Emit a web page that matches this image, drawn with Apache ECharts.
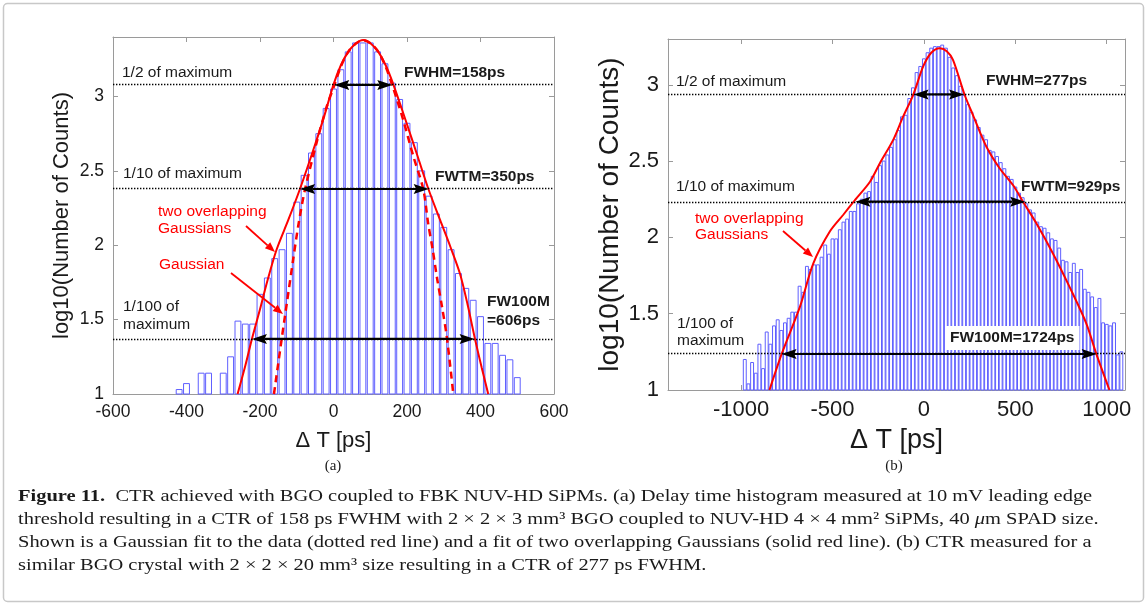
<!DOCTYPE html>
<html>
<head>
<meta charset="utf-8">
<script src="https://cdn.jsdelivr.net/npm/echarts@6/dist/echarts.min.js"></script>
<style>
  html, body { margin: 0; padding: 0; background: #ffffff; }
  #chart { width: 1148px; height: 606px; }
</style>
</head>
<body>
<div id="chart"></div>
<script>
// ---------- (a) 2x2x3 mm3 BGO : histogram of log10(counts), 20 ps bins ----------
const binsA = [-420, -400, -360, -340, -300, -280, -260, -240, -220, -200,
  -180, -160, -140, -120, -100, -80, -60, -40, -20, 0,
  20, 40, 60, 80, 100, 120, 140, 160, 180, 200,
  220, 240, 260, 280, 300, 320, 340, 360, 380, 400,
  420, 440, 460, 480, 500];
const countsA = [1.03, 1.07, 1.14, 1.14, 1.14, 1.25, 1.49, 1.47, 1.47, 1.67,
  1.78, 1.91, 1.97, 2.08, 2.29, 2.47, 2.62, 2.75, 2.92, 3.05,
  3.18, 3.30, 3.36, 3.36, 3.36, 3.30, 3.22, 3.09, 2.98, 2.82,
  2.69, 2.50, 2.33, 2.21, 2.12, 1.97, 1.81, 1.71, 1.63, 1.52,
  1.34, 1.34, 1.26, 1.23, 1.11];
// fit of two overlapping Gaussians (solid) and single Gaussian (dashed), [ps, log10]
const twoGaussA = [[-261, 1.0], [-240, 1.19], [-222, 1.37], [-200, 1.57], [-180, 1.76],
  [-155, 1.97], [-123, 2.17], [-91, 2.38], [-55, 2.64], [-25, 2.87], [0, 3.08],
  [20, 3.21], [40, 3.30], [60, 3.355], [81, 3.379], [102, 3.355], [122, 3.30],
  [142, 3.21], [163, 3.08], [199, 2.82], [230, 2.59], [258, 2.38], [290, 2.17],
  [318, 1.99], [344, 1.81], [365, 1.60], [385, 1.37], [403, 1.18], [421, 1.0]];
const gaussA = [[-162, 1.0], [-141, 1.37], [-127, 1.61], [-110, 1.90], [-96, 2.13],
  [-78, 2.37], [-46, 2.69], [-20, 2.92], [0, 3.06], [20, 3.20], [40, 3.30],
  [60, 3.355], [81, 3.379], [102, 3.355], [122, 3.30], [142, 3.20], [162, 3.06],
  [190, 2.84], [217, 2.60], [244, 2.38], [258, 2.14], [270, 1.97], [281, 1.79],
  [295, 1.59], [308, 1.39], [326, 1.0]];
const levelsA = [3.078, 2.378, 1.37];        // 1/2, 1/10, 1/100 of maximum
const fwStartA = [2, -91, -222];             // left edge of each width, ps
const fwWidthA = [158, 350, 606];            // FWHM, FWTM, FW100M, ps
const xTicksA = [-600, -400, -200, 0, 200, 400, 600];
const yTicksA = [1, 1.5, 2, 2.5, 3];

// ---------- (b) 2x2x20 mm3 BGO ----------
const binsB = [-980, -960, -940, -920, -900, -880, -860, -840, -820, -800,
  -780, -760, -740, -720, -700, -680, -660, -640, -620, -600,
  -580, -560, -540, -520, -500, -480, -460, -440, -420, -400,
  -380, -360, -340, -320, -300, -280, -260, -240, -220, -200,
  -180, -160, -140, -120, -100, -80, -60, -40, -20, 0,
  20, 40, 60, 80, 100, 120, 140, 160, 180, 200,
  220, 240, 260, 280, 300, 320, 340, 360, 380, 400,
  420, 440, 460, 480, 500, 520, 540, 560, 580, 600,
  620, 640, 660, 680, 700, 720, 740, 760, 780, 800,
  820, 840, 860, 880, 900, 920, 940, 960, 980, 1000,
  1020, 1040, 1060, 1080];
const countsB = [1.20, 1.04, 1.18, 1.11, 1.30, 1.14, 1.38, 1.30, 1.42, 1.46,
  1.39, 1.44, 1.47, 1.51, 1.51, 1.68, 1.64, 1.81, 1.79, 1.82,
  1.82, 1.87, 1.95, 1.89, 1.99, 1.99, 2.05, 2.10, 2.12, 2.17,
  2.17, 2.22, 2.25, 2.29, 2.30, 2.40, 2.36, 2.47, 2.50, 2.54,
  2.59, 2.64, 2.70, 2.79, 2.80, 2.91, 2.98, 3.08, 3.12, 3.17,
  3.21, 3.24, 3.25, 3.25, 3.26, 3.24, 3.18, 3.11, 3.06, 2.99,
  2.93, 2.87, 2.82, 2.77, 2.72, 2.67, 2.64, 2.57, 2.56, 2.53,
  2.49, 2.45, 2.40, 2.38, 2.33, 2.29, 2.26, 2.22, 2.18, 2.16,
  2.10, 2.07, 2.06, 2.03, 1.99, 1.98, 1.93, 1.85, 1.84, 1.77,
  1.83, 1.77, 1.79, 1.66, 1.64, 1.61, 1.54, 1.60, 1.44, 1.43,
  1.42, 1.44, 1.23, 1.25];
const twoGaussB = [[-845, 1.0], [-777, 1.24], [-677, 1.55], [-605, 1.83], [-514, 2.04],
  [-440, 2.15], [-377, 2.245], [-295, 2.365], [-241, 2.486], [-168, 2.639],
  [-114, 2.791], [-59, 2.933], [-4, 3.12], [40, 3.21], [87, 3.24], [125, 3.22],
  [159, 3.163], [223, 2.933], [269, 2.80], [342, 2.594], [414, 2.453], [487, 2.343],
  [542, 2.234], [615, 2.092], [705, 1.896], [796, 1.677], [888, 1.437], [942, 1.24],
  [1015, 1.0]];
const levelsB = [2.937, 2.234, 1.236];
const fwStartB = [-57, -375, -779];
const fwWidthB = [277, 929, 1724];
const xTicksB = [-1000, -500, 0, 500, 1000];
const yTicksB = [1, 1.5, 2, 2.5, 3];

const BIN_HALF = 8;   // bars drawn at 80 % of the 20 ps bin
const SANS = '"Liberation Sans", Arial, Helvetica, sans-serif';
const SERIF = '"Liberation Serif", "Times New Roman", serif';
const AXIS_GREY = '#9a9a9a';
const BAR_BLUE = '#5f5fff';

const chart = echarts.init(document.getElementById('chart'), null, { renderer: 'canvas' });

function barRenderer(base) {
  return function (params, api) {
    const x = api.value(0), v = api.value(1);
    const a = api.coord([x - BIN_HALF, v]);
    const b = api.coord([x + BIN_HALF, base]);
    return {
      type: 'rect',
      shape: { x: a[0], y: a[1], width: b[0] - a[0], height: b[1] - a[1] },
      style: { fill: '#ffffff', stroke: BAR_BLUE, lineWidth: 1 }
    };
  };
}

const plainNumber = v => String(v);

function makeXAxes(gridIndex, min, max, ticks, fontSize, nameSize, nameGap) {
  const line = { show: true, onZero: false, lineStyle: { color: AXIS_GREY, width: 1 } };
  return [{
    type: 'value', gridIndex, min, max, position: 'bottom',
    name: 'Δ T [ps]', nameLocation: 'middle', nameGap,
    nameTextStyle: { fontFamily: SANS, fontSize: nameSize, color: '#1a1a1a' },
    axisLine: line,
    axisTick: { show: true, inside: true, length: 5, customValues: ticks, lineStyle: { color: AXIS_GREY } },
    axisLabel: { customValues: ticks, formatter: plainNumber, fontFamily: SANS, fontSize, color: '#1a1a1a', margin: 9 },
    splitLine: { show: false }
  }, {
    type: 'value', gridIndex, min, max, position: 'top',
    axisLine: line,
    axisTick: { show: true, inside: true, length: 5, customValues: ticks, lineStyle: { color: AXIS_GREY } },
    axisLabel: { show: false },
    splitLine: { show: false }
  }];
}

function makeYAxes(gridIndex, min, max, ticks, fontSize, nameSize, nameGap) {
  const line = { show: true, onZero: false, lineStyle: { color: AXIS_GREY, width: 1 } };
  return [{
    type: 'value', gridIndex, min, max, position: 'left',
    name: 'log10(Number of Counts)', nameLocation: 'middle', nameGap, nameRotate: 90,
    nameTextStyle: { fontFamily: SANS, fontSize: nameSize, color: '#1a1a1a' },
    axisLine: line,
    axisTick: { show: true, inside: true, length: 5, customValues: ticks, lineStyle: { color: AXIS_GREY } },
    axisLabel: { customValues: ticks, formatter: plainNumber, fontFamily: SANS, fontSize, color: '#1a1a1a', margin: 9 },
    splitLine: { show: false }
  }, {
    type: 'value', gridIndex, min, max, position: 'right',
    axisLine: line,
    axisTick: { show: true, inside: true, length: 5, customValues: ticks, lineStyle: { color: AXIS_GREY } },
    axisLabel: { show: false },
    splitLine: { show: false }
  }];
}

function levelLines(levels) {
  return {
    silent: true, animation: false, symbol: 'none', label: { show: false },
    lineStyle: { color: '#000000', type: [1.4, 1.6], width: 1.4 },
    emphasis: { disabled: true },
    data: levels.map(v => ({ yAxis: v }))
  };
}

function txt(x, y, text, opt) {
  opt = opt || {};
  return {
    type: 'text', x, y, z: 100,
    style: Object.assign({
      text, fontFamily: SANS, fontSize: 15.5, fill: '#1a1a1a',
      align: 'left', verticalAlign: 'middle'
    }, opt)
  };
}

function pointer(x1, y1, x2, y2) {
  const ang = Math.atan2(y2 - y1, x2 - x1);
  const c = Math.cos(ang), s = Math.sin(ang);
  const L = 10, W = 4;
  const bx = x2 - L * c, by = y2 - L * s;
  return [
    { type: 'line', z: 100, shape: { x1, y1, x2: bx, y2: by }, style: { stroke: '#ff0000', lineWidth: 1.8 } },
    { type: 'polygon', z: 100, shape: { points: [[x2, y2], [bx + W * s, by - W * c], [bx - W * s, by + W * c]] },
      style: { fill: '#ff0000' } }
  ];
}

const caption = [
  '{b|Figure 11.}  CTR achieved with BGO coupled to FBK NUV-HD SiPMs. (a) Delay time histogram measured at 10 mV leading edge',
  'threshold resulting in a CTR of 158 ps FWHM with 2 × 2 × 3 mm³ BGO coupled to NUV-HD 4 × 4 mm² SiPMs, 40 {i|μ}m SPAD size.',
  'Shown is a Gaussian fit to the data (dotted red line) and a fit of two overlapping Gaussians (solid red line). (b) CTR measured for a',
  'similar BGO crystal with 2 × 2 × 20 mm³ size resulting in a CTR of 277 ps FWHM.'
];
const CAP_SIZE = 17.5;
const CAP_STRETCH = 1.17;   // caption face is set a little wider than Liberation Serif

const staticGraphics = [
  { type: 'rect', z: 0, shape: { x: 3.5, y: 3.5, width: 1140, height: 598, r: 4 },
    style: { fill: 'none', stroke: '#c8c8c8', lineWidth: 1.5 } },
  // panel (a) annotations
  txt(122, 73, '1/2 of maximum'),
  txt(404, 73, 'FWHM=158ps', { fontWeight: 'bold' }),
  txt(123, 174, '1/10 of maximum'),
  txt(435, 177, 'FWTM=350ps', { fontWeight: 'bold' }),
  txt(158, 211.5, 'two overlapping', { fill: '#ff0000' }),
  txt(158, 228.5, 'Gaussians', { fill: '#ff0000' }),
  txt(159, 265, 'Gaussian', { fill: '#ff0000' }),
  txt(123, 307, '1/100 of'),
  txt(123, 325, 'maximum'),
  txt(487, 302, 'FW100M', { fontWeight: 'bold' }),
  txt(487, 320.5, '=606ps', { fontWeight: 'bold' }),
  ...pointer(246, 226, 275, 252),
  ...pointer(231, 273, 283, 314),
  // panel (b) annotations
  txt(676, 82, '1/2 of maximum'),
  txt(986, 81, 'FWHM=277ps', { fontWeight: 'bold' }),
  txt(676, 187, '1/10 of maximum'),
  txt(1021, 187, 'FWTM=929ps', { fontWeight: 'bold' }),
  txt(695, 218.5, 'two overlapping', { fill: '#ff0000' }),
  txt(695, 235, 'Gaussians', { fill: '#ff0000' }),
  txt(677, 324, '1/100 of'),
  txt(677, 341, 'maximum'),
  txt(945, 338, 'FW100M=1724ps', { fontWeight: 'bold', backgroundColor: '#ffffff', padding: [4, 5, 4, 5] }),
  ...pointer(783, 231, 813, 257),
  // panel letters
  txt(333, 466, '(a)', { fontFamily: SERIF, fontSize: 15, align: 'center' }),
  txt(894, 466, '(b)', { fontFamily: SERIF, fontSize: 15, align: 'center' }),
  // caption
  ...caption.map((line, i) => ({
    type: 'text', x: 18, y: 496 + i * 23.3, z: 100, scaleX: CAP_STRETCH, scaleY: 1,
    style: {
      text: line, fontFamily: SERIF, fontSize: CAP_SIZE, fill: '#1a1a1a',
      align: 'left', verticalAlign: 'middle',
      rich: {
        b: { fontFamily: SERIF, fontSize: CAP_SIZE, fontWeight: 'bold', fill: '#1a1a1a' },
        i: { fontFamily: SERIF, fontSize: CAP_SIZE, fontStyle: 'italic', fill: '#1a1a1a' }
      }
    }
  }))
];

const option = {
  animation: false,
  backgroundColor: '#ffffff',
  grid: [
    { left: 113, top: 37, width: 441, height: 357, containLabel: false },
    { left: 668, top: 39, width: 457, height: 351, containLabel: false }
  ],
  xAxis: [
    ...makeXAxes(0, -600, 600, xTicksA, 17.5, 22, 36),
    ...makeXAxes(1, -1400, 1100, xTicksB, 22, 27, 37)
  ],
  yAxis: [
    ...makeYAxes(0, 1, 3.4, yTicksA, 17.5, 22, 40),
    ...makeYAxes(1, 1, 3.3, yTicksB, 22, 28, 37)
  ],
  series: [
    { type: 'custom', name: 'histogram (a)', xAxisIndex: 0, yAxisIndex: 0, z: 2,
      data: binsA.map((b, i) => [b, countsA[i]]), renderItem: barRenderer(1) },
    { type: 'line', name: 'Gaussian (a)', xAxisIndex: 0, yAxisIndex: 0, z: 3,
      data: gaussA, smooth: 0.3, symbol: 'none',
      lineStyle: { color: '#ff0000', width: 2.5, type: [7, 5] },
      markLine: levelLines(levelsA) },
    { type: 'line', name: 'two overlapping Gaussians (a)', xAxisIndex: 0, yAxisIndex: 0, z: 4,
      data: twoGaussA, smooth: 0.3, symbol: 'none',
      lineStyle: { color: '#ff0000', width: 2 } },
    { type: 'custom', name: 'histogram (b)', xAxisIndex: 2, yAxisIndex: 2, z: 2,
      data: binsB.map((b, i) => [b, countsB[i]]), renderItem: barRenderer(1) },
    { type: 'line', name: 'two overlapping Gaussians (b)', xAxisIndex: 2, yAxisIndex: 2, z: 4,
      data: twoGaussB, smooth: 0.3, symbol: 'none',
      lineStyle: { color: '#ff0000', width: 2 },
      markLine: levelLines(levelsB) }
  ],
  graphic: staticGraphics
};

chart.setOption(option);

// double-headed width arrows placed through each panel's axes
function widthArrow(gridIndex, x1, x2, y) {
  const p1 = chart.convertToPixel({ gridIndex }, [x1, y]);
  const p2 = chart.convertToPixel({ gridIndex }, [x2, y]);
  const L = 15, W = 5, N = 2.5;
  const yy = p1[1];
  const head = (tx, dir) => ({
    type: 'polygon', z: 101,
    shape: { points: [[tx, yy], [tx + dir * L, yy - W], [tx + dir * (L - N), yy], [tx + dir * L, yy + W]] },
    style: { fill: '#000000' }
  });
  return [
    { type: 'line', z: 101, shape: { x1: p1[0] + L - N, y1: yy, x2: p2[0] - L + N, y2: yy },
      style: { stroke: '#000000', lineWidth: 2.2 } },
    head(p1[0], 1), head(p2[0], -1)
  ];
}

const arrows = [];
levelsA.forEach((lv, i) => arrows.push(...widthArrow(0, fwStartA[i], fwStartA[i] + fwWidthA[i], lv)));
levelsB.forEach((lv, i) => arrows.push(...widthArrow(1, fwStartB[i], fwStartB[i] + fwWidthB[i], lv)));

chart.setOption({ graphic: staticGraphics.concat(arrows) });
</script>
</body>
</html>
